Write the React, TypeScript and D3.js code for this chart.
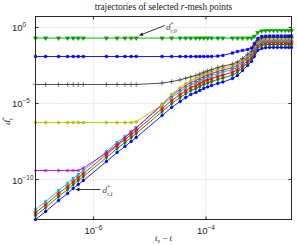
import * as d3 from "d3";
import React from "react";

// sampled times t_s - t, as log10 exponents
const logT = [
  -7.03, -6.85, -6.62, -6.46, -6.36, -6.27, -6.18, -5.77, -5.58, -5.44,
  -5.33, -5.24, -4.78, -4.61, -4.46, -4.36, -4.27, -4.18, -4.11, -4.04,
  -3.97, -3.9, -3.79, -3.7, -3.53, -3.44, -3.35, -3.26, -3.19, -3.14,
  -3.08, -3.01, -2.94, -2.87, -2.8, -2.73, -2.66, -2.59, -2.53, -2.48,
];

// log10 of d*_{r,k} at each sample
const dr1 = [
  -12.63, -12.11, -11.38, -10.92, -10.59, -10.33, -10.07, -8.82, -8.22, -7.83,
  -7.5, -7.24, -5.79, -5.26, -4.87, -4.61, -4.41, -4.28, -4.14, -4.01,
  -3.91, -3.82, -3.68, -3.59, -3.36, -3.16, -2.83, -2.5, -2.24, -1.91,
  -1.51, -1.38, -1.33, -1.32, -1.32, -1.32, -1.32, -1.32, -1.32, -1.32,
];
const dr2 = [
  -12.37, -11.85, -11.12, -10.66, -10.33, -10.07, -9.81, -8.56, -7.96, -7.57,
  -7.24, -6.98, -5.53, -5.0, -4.61, -4.35, -4.15, -4.02, -3.88, -3.75,
  -3.65, -3.56, -3.42, -3.33, -3.13, -2.94, -2.63, -2.32, -2.07, -1.73,
  -1.31, -1.17, -1.13, -1.12, -1.12, -1.12, -1.12, -1.12, -1.12, -1.12,
];
const dr3 = [
  -12.17, -11.65, -10.92, -10.46, -10.13, -9.87, -9.61, -8.36, -7.76, -7.37,
  -7.04, -6.78, -5.33, -4.8, -4.41, -4.15, -3.95, -3.82, -3.68, -3.55,
  -3.45, -3.36, -3.22, -3.13, -2.95, -2.77, -2.49, -2.18, -1.94, -1.59,
  -1.18, -1.04, -1.0, -0.99, -0.99, -0.99, -0.99, -0.99, -0.99, -0.99,
];
const dr4 = [
  -11.97, -11.45, -10.72, -10.26, -9.93, -9.67, -9.41, -8.16, -7.56, -7.17,
  -6.84, -6.58, -5.13, -4.6, -4.21, -3.95, -3.75, -3.62, -3.48, -3.35,
  -3.25, -3.16, -3.02, -2.93, -2.77, -2.6, -2.33, -2.04, -1.81, -1.45,
  -1.08, -0.94, -0.9, -0.89, -0.89, -0.89, -0.89, -0.89, -0.89, -0.89,
];
const dr5 = [
  -9.41, -9.41, -9.41, -9.41, -9.41, -9.41, -9.25, -8.25, -7.7, -7.25,
  -6.9, -6.62, -5.05, -4.47, -4.08, -3.82, -3.62, -3.49, -3.35, -3.22,
  -3.12, -3.03, -2.89, -2.8, -2.65, -2.49, -2.24, -1.95, -1.73, -1.36,
  -1.01, -0.87, -0.83, -0.82, -0.82, -0.82, -0.82, -0.82, -0.82, -0.82,
];
const dr6 = [
  -6.25, -6.25, -6.25, -6.25, -6.25, -6.25, -6.25, -6.25, -6.25, -6.25,
  -6.25, -6.2, -5.1, -4.4, -3.95, -3.69, -3.49, -3.36, -3.22, -3.09,
  -2.99, -2.9, -2.76, -2.67, -2.53, -2.38, -2.14, -1.86, -1.64, -1.27,
  -0.95, -0.81, -0.77, -0.76, -0.76, -0.76, -0.76, -0.76, -0.76, -0.76,
];
const dr7 = [
  -3.75, -3.75, -3.75, -3.75, -3.75, -3.75, -3.75, -3.75, -3.75, -3.75,
  -3.75, -3.75, -3.66, -3.56, -3.45, -3.34, -3.25, -3.16, -3.06, -2.95,
  -2.86, -2.77, -2.63, -2.54, -2.41, -2.27, -2.04, -1.76, -1.56, -1.17,
  -0.85, -0.71, -0.67, -0.66, -0.66, -0.66, -0.66, -0.66, -0.66, -0.66,
];
const dr8 = [
  -1.91, -1.91, -1.91, -1.91, -1.91, -1.91, -1.91, -1.91, -1.91, -1.91,
  -1.91, -1.91, -1.91, -1.91, -1.91, -1.91, -1.91, -1.91, -1.91, -1.91,
  -1.91, -1.91, -1.88, -1.84, -1.68, -1.58, -1.51, -1.45, -1.35, -1.05,
  -0.72, -0.59, -0.57, -0.56, -0.56, -0.56, -0.56, -0.56, -0.56, -0.56,
];
const dr9 = [
  -0.7, -0.7, -0.7, -0.7, -0.7, -0.7, -0.7, -0.7, -0.7, -0.7,
  -0.7, -0.7, -0.7, -0.7, -0.7, -0.7, -0.7, -0.7, -0.7, -0.7,
  -0.7, -0.7, -0.7, -0.7, -0.7, -0.7, -0.7, -0.7, -0.7, -0.59,
  -0.33, -0.23, -0.21, -0.2, -0.2, -0.2, -0.2, -0.2, -0.2, -0.2,
];

const series = [dr1, dr2, dr3, dr4, dr5, dr6, dr7, dr8, dr9];
const xTicks = [-6, -4];
const yTicks = [0, -5, -10];

const colors = [
  "#0000ff", "#008000", "#ff0000", "#00bfbf", "#bf00bf",
  "#bfbf00", "#404040", "#0000ff", "#00a000",
];

const sym: any = d3;
const markers = [
  { type: d3.symbolCircle, size: 7, fill: true, rot: 0 },
  { type: d3.symbolDiamond, size: 7, fill: true, rot: 0 },
  { type: d3.symbolStar, size: 8, fill: true, rot: 0 },
  { type: d3.symbolSquare, size: 7, fill: true, rot: 0 },
  { type: sym.symbolAsterisk ?? d3.symbolCross, size: 9, fill: false, rot: 0 },
  { type: d3.symbolCircle, size: 8, fill: true, rot: 0 },
  { type: sym.symbolPlus ?? d3.symbolCross, size: 9, fill: false, rot: 0 },
  { type: d3.symbolSquare, size: 7, fill: true, rot: 0 },
  { type: d3.symbolTriangle, size: 9, fill: true, rot: 180 },
];

const serif = "'Liberation Serif', 'DejaVu Serif', serif";
const sans = "'Liberation Sans', Arial, sans-serif";

export default function App() {
  const width = 297;
  const height = 245;
  const m = { top: 16.5, right: 5.5, bottom: 25.5, left: 35.5 };

  const x = d3
    .scaleLog()
    .domain([10 ** -7.03, 10 ** -2.48])
    .range([m.left, width - m.right]);
  const y = d3
    .scaleLog()
    .domain([10 ** -12.63, 10 ** 0.72])
    .range([height - m.bottom, m.top]);

  const line = d3
    .line<number>()
    .x((_, i) => x(10 ** logT[i]))
    .y((d) => y(10 ** d));

  const x0 = m.left;
  const x1 = width - m.right;
  const y0 = height - m.bottom;
  const y1 = m.top;

  // annotation anchors in data space (log10)
  const a9 = { tip: [-5.19, -0.53], tail: [-4.73, 0.13], text: [-4.71, -0.2] };
  const a1 = { tip: [-6.32, -10.66], tail: [-5.88, -10.66], text: [-5.84, -10.9] };
  const px = (p: number[]) => [x(10 ** p[0]), y(10 ** p[1])];

  const arrow = (a: typeof a9, label: string) => {
    const [tx, ty] = px(a.tip);
    const [sx, sy] = px(a.tail);
    const ang = Math.atan2(ty - sy, tx - sx);
    const hl = 4;
    const hw = 1.8;
    const bx = tx - hl * Math.cos(ang);
    const by = ty - hl * Math.sin(ang);
    const head = `M${tx},${ty}L${bx + hw * Math.sin(ang)},${by - hw * Math.cos(ang)}L${bx - hw * Math.sin(ang)},${by + hw * Math.cos(ang)}Z`;
    const [lx, ly] = px(a.text);
    return (
      <g>
        <line x1={sx} y1={sy} x2={bx} y2={by} stroke="#000" strokeWidth={0.8} />
        <path d={head} fill="#000" />
        <text x={lx} y={ly} fontFamily={serif} fontSize={9} fill="#444">
          <tspan fontStyle="italic">d</tspan>
          <tspan fontSize={6} dy={-4}>*</tspan>
          <tspan fontSize={6} fontStyle="italic" dx={-3} dy={6.5}>{label}</tspan>
        </text>
      </g>
    );
  };

  return (
    <svg
      width={width}
      height={height}
      style={{ position: "absolute", left: 0, top: 0, background: "#fff" }}
    >
      {/* grid */}
      {xTicks.map((t) => (
        <line
          key={"gx" + t}
          x1={x(10 ** t)}
          x2={x(10 ** t)}
          y1={y0}
          y2={y1}
          stroke="#bdbdbd"
          strokeWidth={0.8}
          strokeDasharray="1,2"
        />
      ))}
      {yTicks.map((t) => (
        <line
          key={"gy" + t}
          x1={x0}
          x2={x1}
          y1={y(10 ** t)}
          y2={y(10 ** t)}
          stroke="#bdbdbd"
          strokeWidth={0.8}
          strokeDasharray="1,2"
        />
      ))}

      {/* data */}
      {series.map((s, k) => {
        const mk = markers[k];
        const path = d3.symbol().type(mk.type).size(mk.size)()!;
        return (
          <g key={k}>
            <path d={line(s)!} fill="none" stroke={colors[k]} strokeWidth={0.9} />
            {s.map((v, i) => (
              <path
                key={i}
                d={path}
                transform={`translate(${x(10 ** logT[i])},${y(10 ** v)}) rotate(${mk.rot})`}
                fill={mk.fill ? colors[k] : "none"}
                stroke={colors[k]}
                strokeWidth={mk.fill ? 0.3 : 0.7}
              />
            ))}
          </g>
        );
      })}

      {/* axes box + ticks */}
      <rect x={x0} y={y1} width={x1 - x0} height={y0 - y1} fill="none" stroke="#262626" strokeWidth={1} />
      {xTicks.map((t) => (
        <g key={"tx" + t}>
          <line x1={x(10 ** t)} x2={x(10 ** t)} y1={y0} y2={y0 - 3} stroke="#262626" />
          <line x1={x(10 ** t)} x2={x(10 ** t)} y1={y1} y2={y1 + 3} stroke="#262626" />
          <text x={x(10 ** t)} y={y0 + 14} textAnchor="middle" fontFamily={sans} fontSize={9.5} fill="#262626">
            10<tspan fontSize={6.5} dy={-4}>{"\u2212" + Math.abs(t)}</tspan>
          </text>
        </g>
      ))}
      {yTicks.map((t) => (
        <g key={"ty" + t}>
          <line x1={x0} x2={x0 + 3} y1={y(10 ** t)} y2={y(10 ** t)} stroke="#262626" />
          <line x1={x1} x2={x1 - 3} y1={y(10 ** t)} y2={y(10 ** t)} stroke="#262626" />
          <text x={12} y={y(10 ** t) + 4} fontFamily={sans} fontSize={9.5} fill="#262626">
            10<tspan fontSize={6.5} dy={-4}>{t === 0 ? "0" : "\u2212" + Math.abs(t)}</tspan>
          </text>
        </g>
      ))}

      {/* annotations */}
      {arrow(a9, "r,9")}
      {arrow(a1, "r,1")}

      {/* title & labels */}
      <text x={(x0 + x1) / 2} y={10} textAnchor="middle" fontFamily={serif} fontSize={9.3} fill="#222">
        trajectories of selected <tspan fontStyle="italic">r</tspan>-mesh points
      </text>
      <text x={(x0 + x1) / 2} y={241} textAnchor="middle" fontFamily={serif} fontSize={9} fill="#222">
        <tspan fontStyle="italic">t</tspan>
        <tspan fontSize={6} fontStyle="italic" dy={2}>s</tspan>
        <tspan dy={-2}> − </tspan>
        <tspan fontStyle="italic">t</tspan>
      </text>
      <text transform="translate(10,121) rotate(-90)" textAnchor="middle" fontFamily={serif} fontSize={9} fill="#222">
        <tspan fontStyle="italic">d</tspan>
        <tspan fontSize={6} dy={-4}>*</tspan>
        <tspan fontSize={6} fontStyle="italic" dx={-3} dy={6.5}>r</tspan>
      </text>
    </svg>
  );
}
